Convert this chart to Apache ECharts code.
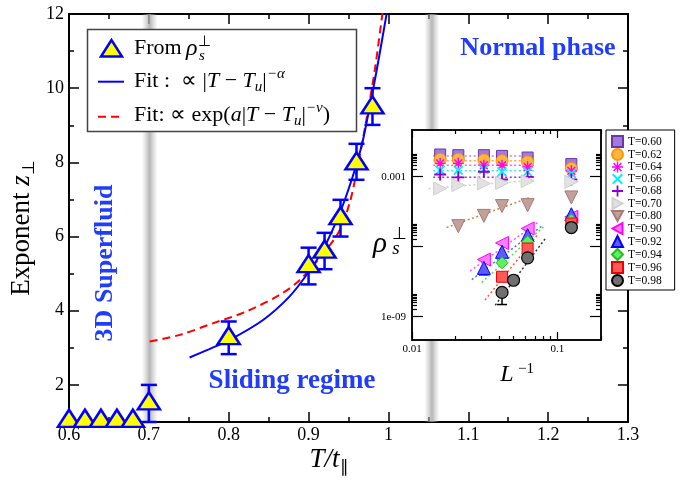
<!DOCTYPE html>
<html><head><meta charset="utf-8">
<script src="https://cdn.jsdelivr.net/npm/echarts@6/dist/echarts.min.js"></script>
<style>html,body{margin:0;padding:0;background:#fff}#c{width:679px;height:484px}</style>
</head><body><div id="c"></div>
<script>
// ================= main panel data =================
const mainT    = [0.60, 0.62, 0.64, 0.66, 0.68, 0.70, 0.80, 0.90, 0.92, 0.94, 0.96, 0.98];
const mainZ    = [1.10, 1.10, 1.10, 1.10, 1.10, 1.57, 3.33, 5.27, 5.66, 6.56, 8.04, 9.55];
const errLow   = [null, null, null, null, null, 1.00, 2.83, 4.71, 5.12, 6.00, 7.53, 9.01];
const errHigh  = [null, null, null, null, null, 2.00, 3.71, 5.70, 6.10, 6.99, 8.50, 10.00];
// fit curves
const fitPowT  = [0.751, 0.775, 0.801, 0.843, 0.876, 0.899, 0.918, 0.939, 0.955, 0.967, 0.977, 0.985, 0.992, 0.9985];
const fitPowZ  = [2.74, 2.96, 3.21, 3.75, 4.38, 5.01, 5.64, 6.63, 7.60, 8.50, 9.55, 10.45, 11.30, 12.10];
const fitExpT  = [0.701, 0.739, 0.780, 0.822, 0.864, 0.889, 0.922, 0.939, 0.952, 0.962, 0.972, 0.983, 0.993];
const fitExpZ  = [3.17, 3.35, 3.66, 3.98, 4.43, 4.83, 5.64, 6.17, 6.95, 7.95, 9.10, 10.50, 12.10];
// shaded crossover bands (T ranges)
const bandT    = [[0.691, 0.711], [1.045, 1.064]];
// ticks
const yTickVals  = [2, 4, 6, 8, 10, 12];
const yMinorVals = [3, 5, 7, 9, 11];

// ================= inset data (log10 of rho_s) =================
const invL    = [0.015625, 0.020833, 0.03125, 0.041667, 0.0625, 0.125];
const invL080 = [0.020833, 0.03125, 0.041667, 0.0625, 0.125];
const invL090 = [0.03125, 0.041667, 0.0625, 0.125];
const invL094 = [0.041667, 0.0625, 0.125];
const invL098 = [0.041667, 0.05, 0.0625, 0.125];
const rho060 = [-2.05, -2.08, -2.08, -2.11, -2.18, -2.46];
const rho062 = [-2.26, -2.26, -2.29, -2.32, -2.37, -2.65];
const rho064 = [-2.43, -2.43, -2.51, -2.51, -2.58, -2.75];
const rho066 = [-2.72, -2.72, -2.69, -2.79, -2.79, -2.86];
const rho068 = [-2.91, -3.03, -2.79, -3.12, -3.01, -3.12];
const rho070 = [-3.51, -3.36, -3.29, -3.27, -3.19, -3.22];
const rho080 = [-5.12, -4.68, -4.26, -4.22, -3.89];
const rho090 = [-6.55, -5.84, -5.22, -4.72];
const rho092 = [-6.91, -6.22, -5.51, -4.61];
const rho094 = [-6.69, -5.79, -4.86];
const rho096 = [-7.29, -6.08, -5.01];
const rho098 = [-7.96, -7.44, -6.48, -5.18];
const tempLabels = ['T=0.60','T=0.62','T=0.64','T=0.66','T=0.68','T=0.70','T=0.80','T=0.90','T=0.92','T=0.94','T=0.96','T=0.98'];
// dotted fit lines in the inset: endpoints (x, log10 rho)
const fitLineX1 = [0.014, 0.014, 0.014, 0.014, 0.014, 0.013, 0.0173, 0.0251, 0.0258, 0.0302, 0.0318, 0.0374];
const fitLineX2 = [0.069, 0.069, 0.069, 0.069, 0.069, 0.069, 0.0651, 0.0743, 0.0783, 0.0803, 0.0743, 0.0828];
const fitLineY1 = [-2.11, -2.32, -2.51, -2.75, -3.03, -3.51, -5.18, -7.04, -7.41, -7.53, -8.29, -8.51];
const fitLineY2 = [-2.11, -2.32, -2.51, -2.75, -3.03, -3.15, -3.89, -4.94, -5.12, -5.15, -5.43, -5.65];
// inset error bars: [x, low log10, high log10, series index]
const insetErr = [[0.03125, -7.21, -6.75, 8], [0.041667, -8.48, -7.72, 11]];
// inset tick labels
const insetXLabelVals = [0.01, 0.1];
const insetXLabelText = ['0.01', '0.1'];
const insetYLabelVals = [1e-3, 1e-9];
const insetYLabelText = ['0.001', '1e-09'];
const insetXMajor = [0.01, 0.1];
const insetXMinor = [0.02, 0.03, 0.04, 0.05, 0.06, 0.07, 0.08, 0.09, 0.2];
const insetYMajor = [1e-3, 1e-6, 1e-9];

// ================= styling =================
const SERIF = '"Liberation Serif", "Times New Roman", serif';
const TXT_BLUE = '#1f3cff';
const insetX = [invL, invL, invL, invL, invL, invL, invL080, invL090, invL090, invL094, invL094, invL098];
const insetRho = [rho060, rho062, rho064, rho066, rho068, rho070, rho080, rho090, rho092, rho094, rho096, rho098];
const P_AST = 'path://M-1.3,-10L1.3,-10L1.3,10L-1.3,10Z M-10,-1.3L10,-1.3L10,1.3L-10,1.3Z M-6.15,-7.99L7.99,6.15L6.15,7.99L-7.99,-6.15Z M-7.99,6.15L6.15,-7.99L7.99,-6.15L-6.15,7.99Z';
const P_X = 'path://M-6.01,-8.13L8.13,6.01L6.01,8.13L-8.13,-6.01Z M-8.13,6.01L6.01,-8.13L8.13,-6.01L-6.01,8.13Z';
const P_PLUS = 'path://M-1.6,-10L1.6,-10L1.6,10L-1.6,10Z M-10,-1.6L10,-1.6L10,1.6L-10,1.6Z';
const P_TRI_R = 'path://M-8,-10L10,0L-8,10Z';
const P_TRI_D = 'path://M-10,-8L10,-8L0,10Z';
const P_TRI_L = 'path://M8,-10L-10,0L8,10Z';
const insetSym = [
  {symbol:'rect', size:11, fill:'#a27ad8', stroke:'#6b35b0', bw:1},
  {symbol:'circle', size:12, fill:'#ffb640', stroke:'#ff9800', bw:1},
  {symbol:P_AST, size:11, fill:'#ff00ff', stroke:'#ff00ff', bw:0},
  {symbol:P_X, size:10, fill:'#00f0ff', stroke:'#00f0ff', bw:0},
  {symbol:P_PLUS, size:12, fill:'#8f00d0', stroke:'#8f00d0', bw:0},
  {symbol:P_TRI_R, size:13, fill:'#e2e2e2', stroke:'#d0d0d0', bw:1},
  {symbol:P_TRI_D, size:13, fill:'#c4a09c', stroke:'#a87a76', bw:1},
  {symbol:P_TRI_L, size:13, fill:'#ff7dff', stroke:'#ff00ff', bw:1},
  {symbol:'triangle', size:13, fill:'#5c5cff', stroke:'#0000ff', bw:1},
  {symbol:'diamond', size:12, fill:'#5ef05e', stroke:'#1fbf1f', bw:1},
  {symbol:'rect', size:11, fill:'#ff5a5a', stroke:'#ee0000', bw:1},
  {symbol:'circle', size:12, fill:'#707070', stroke:'#000000', bw:1.2}
];
const fitLineColors = ['#b583e6','#ffa640','#ff55ff','#33e6ff','#9a30d0','#cfcfcf','#c8843c','#ff55ff','#4f6bff','#55e055','#ff5a3a','#333333'];

function p10(v) { return Math.pow(10, v); }
function pickLabel(vals, texts) {
  return function (v) {
    for (let i = 0; i < vals.length; i++) {
      if (Math.abs(Math.log10(v) - Math.log10(vals[i])) < 0.01) return texts[i];
    }
    return '';
  };
}
const insetYMinor = [];
insetYMajor.forEach(function (m) { for (let k = 2; k <= 9; k++) insetYMinor.push(m * k); });

const blackLine = {color:'#000', width:2};
const tickStyle = {color:'#000', width:1.5};

// ---------- axes ----------
const mainX = function (pos, showLabel) {
  return {type:'value', gridIndex:0, position:pos, min:0.6, max:1.3, interval:0.1,
    axisLine:{show:true, onZero:false, lineStyle:blackLine},
    axisTick:{show:true, inside:true, length:10, lineStyle:tickStyle},
    minorTick:{show:true, splitNumber:2, length:5, lineStyle:tickStyle},
    splitLine:{show:false}, minorSplitLine:{show:false},
    axisLabel:{show:showLabel, color:'#000', fontFamily:SERIF, fontSize:18, margin:4}};
};
const mainY = function (pos, major, showLabel) {
  return {type:'value', gridIndex:0, position:pos, min:1, max:12, interval:1,
    axisLine:{show:major, onZero:false, lineStyle:blackLine},
    axisTick:{show:true, inside:true, length: major ? 10 : 5, lineStyle:tickStyle, customValues: major ? yTickVals : yMinorVals},
    splitLine:{show:false},
    axisLabel:{show:showLabel, customValues:yTickVals, color:'#000', fontFamily:SERIF, fontSize:18, margin:5}};
};
const inX = function (pos, major, showLabel) {
  return {type:'log', logBase:10, gridIndex:1, position:pos, min:0.01, max:0.2, z:8,
    axisLine:{show:major, onZero:false, lineStyle:{color:'#000', width:1.5}},
    axisTick:{show:true, inside:true, length: major ? 8 : 4, lineStyle:{color:'#000', width:1.2}, customValues: major ? insetXMajor : insetXMinor},
    splitLine:{show:false}, minorTick:{show:false},
    axisLabel:{show:showLabel, customValues:insetXLabelVals, formatter:pickLabel(insetXLabelVals, insetXLabelText), color:'#000', fontFamily:SERIF, fontSize:11, margin:4}};
};
const inY = function (pos, major, showLabel) {
  return {type:'log', logBase:10, gridIndex:1, position:pos, min:1e-10, max:0.1, z:8,
    axisLine:{show:major, onZero:false, lineStyle:{color:'#000', width:1.5}},
    axisTick:{show:true, inside:true, length: major ? 11 : 5, lineStyle:{color:'#000', width:1.2}, customValues: major ? insetYMajor : insetYMinor},
    splitLine:{show:false}, minorTick:{show:false},
    axisLabel:{show:showLabel, customValues:insetYLabelVals, formatter:pickLabel(insetYLabelVals, insetYLabelText), color:'#000', fontFamily:SERIF, fontSize:11, margin:6}};
};

// ---------- series ----------
const bandGrad = new echarts.graphic.LinearGradient(0, 0, 1, 0, [
  {offset:0, color:'rgba(190,190,190,0)'},
  {offset:0.5, color:'rgba(168,168,168,0.85)'},
  {offset:1, color:'rgba(190,190,190,0)'}
]);
const series = [];
series.push({type:'line', xAxisIndex:0, yAxisIndex:0, data:[], z:1, silent:true,
  markArea:{silent:true, itemStyle:{color:bandGrad}, data: bandT.map(function (b) { return [{xAxis:b[0]}, {xAxis:b[1]}]; })}});
series.push({type:'line', name:'fitExp', xAxisIndex:0, yAxisIndex:0, z:2, silent:true, showSymbol:false, symbol:'none',
  smooth:0.3, lineStyle:{color:'#ff0000', width:2, type:[8,5]},
  data: fitExpT.map(function (t, i) { return [t, fitExpZ[i]]; })});
series.push({type:'line', name:'fitPow', xAxisIndex:0, yAxisIndex:0, z:2, silent:true, showSymbol:false, symbol:'none',
  smooth:0.3, lineStyle:{color:'#0000ff', width:2},
  data: fitPowT.map(function (t, i) { return [t, fitPowZ[i]]; })});
series.push({type:'custom', xAxisIndex:0, yAxisIndex:0, z:3, silent:true,
  data: mainT.map(function (t, i) { return [t, errLow[i], errHigh[i]]; }).filter(function (d) { return d[1] != null; }),
  encode:{x:0, y:[1,2]},
  renderItem: function (params, api) {
    const x = api.value(0);
    const a = api.coord([x, api.value(1)]), b = api.coord([x, api.value(2)]);
    const w = 8, st = {stroke:'#0000ff', lineWidth:2.5};
    return {type:'group', children:[
      {type:'line', shape:{x1:a[0], y1:a[1], x2:b[0], y2:b[1]}, style:st},
      {type:'line', shape:{x1:a[0]-w, y1:a[1], x2:a[0]+w, y2:a[1]}, style:st},
      {type:'line', shape:{x1:b[0]-w, y1:b[1], x2:b[0]+w, y2:b[1]}, style:st}
    ]};
  }});
series.push({type:'scatter', name:'main', xAxisIndex:0, yAxisIndex:0, z:4, silent:true,
  symbol:'triangle', symbolSize:[22,17],
  itemStyle:{color:'#ffff00', borderColor:'#0000ff', borderWidth:2.5, opacity:1},
  data: mainT.map(function (t, i) { return [t, mainZ[i]]; })});

// inset fit lines
for (let i = 0; i < 12; i++) {
  series.push({type:'line', xAxisIndex:2, yAxisIndex:4, z:6, silent:true, symbol:'none', showSymbol:false,
    lineStyle:{color:fitLineColors[i], width:1.5, type:[2,2.5]},
    data:[[fitLineX1[i], p10(fitLineY1[i])], [fitLineX2[i], p10(fitLineY2[i])]]});
}
// inset error bars
series.push({type:'custom', xAxisIndex:2, yAxisIndex:4, z:6, silent:true,
  data: insetErr.map(function (e) { return [e[0], p10(e[1]), p10(e[2]), e[3]]; }),
  encode:{x:0, y:[1,2]},
  renderItem: function (params, api) {
    const x = api.value(0);
    const a = api.coord([x, api.value(1)]), b = api.coord([x, api.value(2)]);
    const col = insetSym[api.value(3)].stroke;
    const w = 5, st = {stroke:col, lineWidth:1.5};
    return {type:'group', children:[
      {type:'line', shape:{x1:a[0], y1:a[1], x2:b[0], y2:b[1]}, style:st},
      {type:'line', shape:{x1:a[0]-w, y1:a[1], x2:a[0]+w, y2:a[1]}, style:st}
    ]};
  }});
// inset points
for (let i = 0; i < 12; i++) {
  const s = insetSym[i];
  series.push({type:'scatter', name:tempLabels[i], xAxisIndex:2, yAxisIndex:4, z:7, silent:true,
    symbol:s.symbol, symbolSize:s.size,
    itemStyle:{color:s.fill, borderColor:s.stroke, borderWidth:s.bw, opacity:1},
    data: insetX[i].map(function (x, j) { return [x, p10(insetRho[i][j])]; })});
}

// ---------- graphic texts ----------
const rn = {fontFamily:SERIF, fontSize:22, lineHeight:28, fill:'#000'};
const ri = {fontFamily:SERIF, fontSize:22, lineHeight:28, fontStyle:'italic', fill:'#000'};
const rsup = {fontFamily:SERIF, fontSize:15, lineHeight:15, fontStyle:'italic', fill:'#000', verticalAlign:'top'};
const rsub = {fontFamily:SERIF, fontSize:15, lineHeight:15, fontStyle:'italic', fill:'#000', verticalAlign:'bottom'};
const graphic = [
  // main legend
  {type:'rect', z:10, silent:true, shape:{x:87.5, y:29.5, width:269, height:102}, style:{fill:'#fff', stroke:'#444', lineWidth:1.5}},
  {type:'polygon', z:11, silent:true, shape:{points:[[111.5,40],[101,56.5],[122,56.5]]}, style:{fill:'#ffff00', stroke:'#0000ff', lineWidth:2.5}},
  {type:'text', z:11, silent:true, x:134, y:48, style:{text:'From', font:'22px ' + SERIF, fill:'#000', verticalAlign:'middle'}},
  {type:'text', z:11, silent:true, x:186, y:49, style:{text:'ρ', font:'italic 24px ' + SERIF, fill:'#000', verticalAlign:'middle'}},
  {type:'text', z:11, silent:true, x:199, y:56, style:{text:'s', font:'italic 15px ' + SERIF, fill:'#000', verticalAlign:'middle'}},
  {type:'text', z:11, silent:true, x:198, y:42, style:{text:'⊥', font:'15px ' + SERIF, fill:'#000', verticalAlign:'middle'}},
  {type:'line', z:11, silent:true, shape:{x1:98, y1:81.7, x2:124, y2:81.7}, style:{stroke:'#0000ff', lineWidth:2}},
  {type:'text', z:11, silent:true, x:134, y:81, style:{text:'{n|Fit :  ∝ |}{i|T}{n| − }{i|T}{sub|u}{n||}{sup|−α}', verticalAlign:'middle', rich:{n:rn, i:ri, sup:rsup, sub:rsub}}},
  {type:'line', z:11, silent:true, shape:{x1:98, y1:116.7, x2:124, y2:116.7}, style:{stroke:'#ff0000', lineWidth:2, lineDash:[8,5]}},
  {type:'text', z:11, silent:true, x:134, y:115, style:{text:'{n|Fit: ∝ exp(}{i|a}{n||}{i|T}{n| − }{i|T}{sub|u}{n||}{sup|−ν}{n|)}', verticalAlign:'middle', rich:{n:rn, i:ri, sup:rsup, sub:rsub}}},
  // region labels
  {type:'text', z:9, silent:true, x:538, y:48, style:{text:'Normal phase', font:'bold 26px ' + SERIF, fill:TXT_BLUE, align:'center', verticalAlign:'middle'}},
  {type:'text', z:9, silent:true, x:292, y:381, style:{text:'Sliding regime', font:'bold 27px ' + SERIF, fill:TXT_BLUE, align:'center', verticalAlign:'middle'}},
  {type:'text', z:9, silent:true, x:105, y:263, rotation:Math.PI/2, style:{text:'3D Superfluid', font:'bold 26px ' + SERIF, fill:TXT_BLUE, align:'center', verticalAlign:'middle'}},
  // axis titles
  {type:'text', z:9, silent:true, x:22, y:228, rotation:Math.PI/2, style:{text:'{n|Exponent }{i|z}{sub|⊥}', align:'center', verticalAlign:'middle',
    rich:{n:{fontFamily:SERIF, fontSize:27, lineHeight:32, fill:'#000'}, i:{fontFamily:SERIF, fontSize:27, lineHeight:32, fontStyle:'italic', fill:'#000'}, sub:{fontFamily:SERIF, fontSize:17, lineHeight:17, fill:'#000', verticalAlign:'bottom'}}}},
  {type:'text', z:9, silent:true, x:329, y:460, style:{text:'{i|T/t}{sub|∥}', align:'center', verticalAlign:'middle',
    rich:{i:{fontFamily:SERIF, fontSize:27, lineHeight:32, fontStyle:'italic', fill:'#000'}, sub:{fontFamily:SERIF, fontSize:17, lineHeight:17, fill:'#000', verticalAlign:'bottom'}}}},
  // inset axis titles
  {type:'text', z:9, silent:true, x:380, y:244, style:{text:'ρ', font:'italic 29px ' + SERIF, fill:'#000', align:'center', verticalAlign:'middle'}},
  {type:'text', z:9, silent:true, x:396, y:249, style:{text:'s', font:'italic 19px ' + SERIF, fill:'#000', align:'center', verticalAlign:'middle'}},
  {type:'text', z:9, silent:true, x:399, y:235, style:{text:'⊥', font:'17px ' + SERIF, fill:'#000', align:'center', verticalAlign:'middle'}},
  {type:'text', z:9, silent:true, x:507, y:375, style:{text:'L', font:'italic 24px ' + SERIF, fill:'#000', align:'center', verticalAlign:'middle'}},
  {type:'text', z:9, silent:true, x:526, y:369, style:{text:'−1', font:'15px ' + SERIF, fill:'#000', align:'center', verticalAlign:'middle'}}
];

const option = {
  animation:false,
  backgroundColor:'#fff',
  grid:[
    {left:69, top:14, right:51, bottom:62, show:false, outerBoundsMode:'none', containLabel:false},
    {left:412, top:130, width:189, height:210, show:true, backgroundColor:'#fff', borderColor:'#000', borderWidth:1.5, z:5, outerBoundsMode:'none', containLabel:false}
  ],
  xAxis:[mainX('bottom', true), mainX('top', false),
         inX('bottom', true, true), inX('bottom', false, false), inX('top', true, false), inX('top', false, false)],
  yAxis:[mainY('left', true, true), mainY('left', false, false), mainY('right', true, false), mainY('right', false, false),
         inY('left', true, true), inY('left', false, false), inY('right', true, false), inY('right', false, false)],
  legend:{data: tempLabels,
    orient:'vertical', left:606, top:130, padding:[5,13,3,5], itemWidth:11, itemHeight:11, itemGap:0,
    backgroundColor:'#fff', borderColor:'#000', borderWidth:1, selectedMode:false, z:10,
    textStyle:{fontFamily:SERIF, fontSize:11.5, color:'#000', lineHeight:11}},
  graphic: graphic,
  series: series
};
const chart = echarts.init(document.getElementById('c'), null, {renderer:'canvas', width:679, height:484});
chart.setOption(option);
</script>
</body></html>
